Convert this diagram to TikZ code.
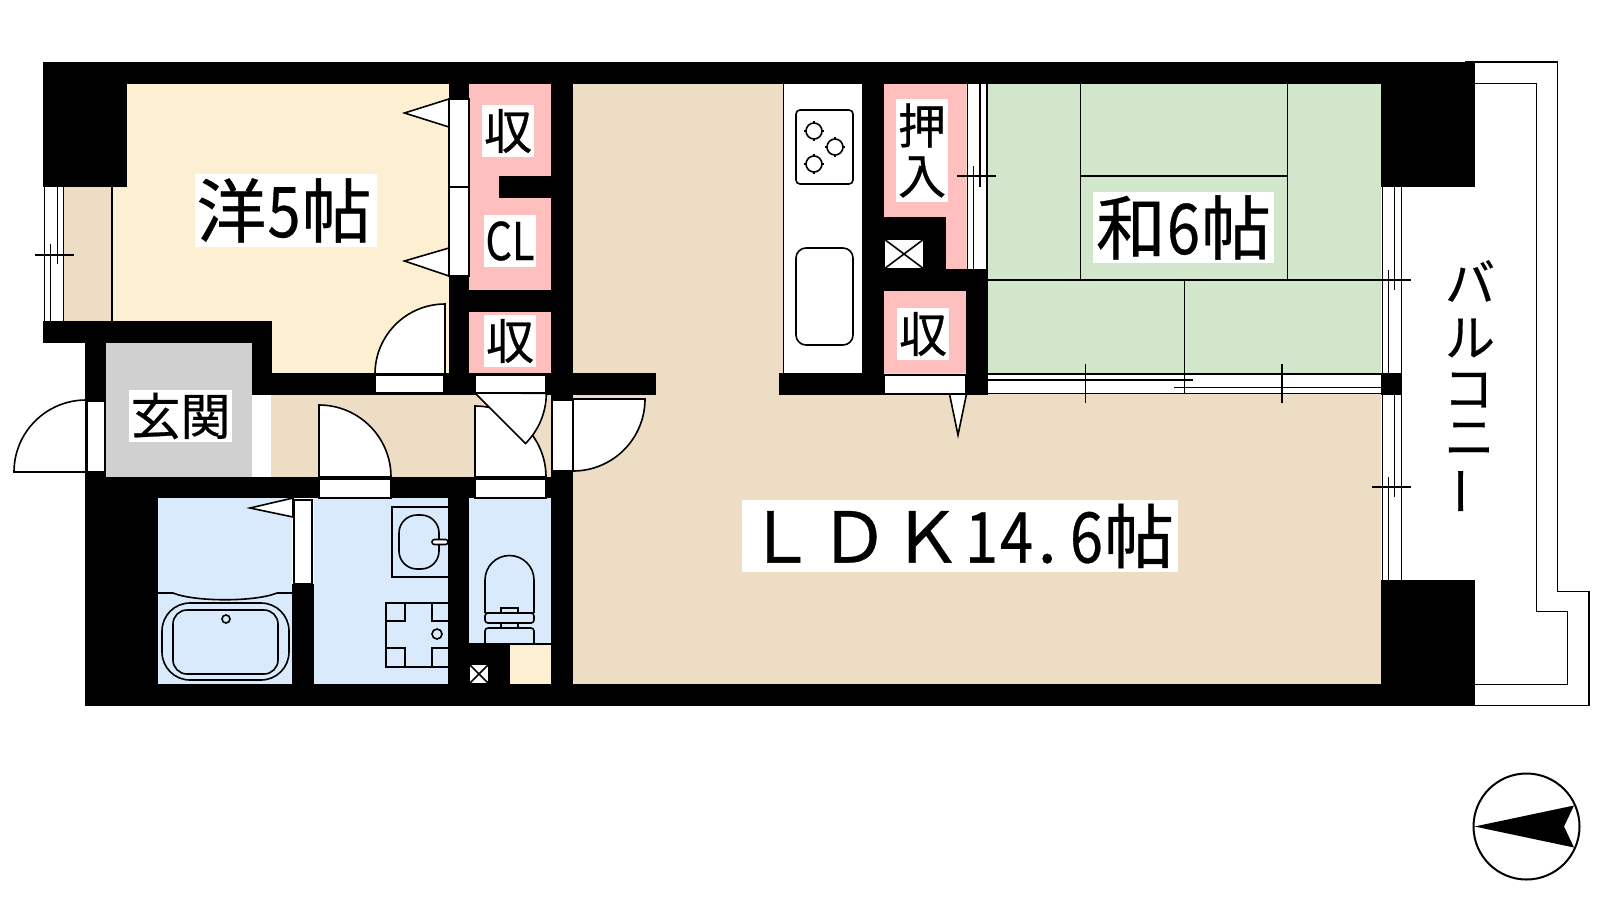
\documentclass[tikz,border=0pt]{standalone}
\usepackage{fontspec}
\setmainfont[FakeBold=.5]{Noto Sans CJK JP}
\definecolor{cream}{HTML}{FDF0D2}
\definecolor{tan}{HTML}{EDDDC5}
\definecolor{tatami}{HTML}{D2E6CB}
\definecolor{closet}{HTML}{FFBFBF}
\definecolor{wet}{HTML}{D9EAFC}
\definecolor{entry}{HTML}{D0D0D0}
\newcommand{\hankaku}[1]{\makebox[.5em]{\scalebox{.85}[1]{#1}}}
\tikzset{
  wall/.style={fill=black,draw=none},
  room/.style={draw=none},
  fine/.style={draw=black,line width=.8pt},
  leaf/.style={draw=black,fill=white,line width=.8pt},
  lbl/.style={fill=white,inner sep=0pt,text=black,align=center},
}
\begin{document}
\begin{tikzpicture}[x=.5pt,y=-.5pt]
                    \useasboundingbox[fill=white] (0,0) rectangle (1600,900);
                    \fill[room,tan] (573,84) rectangle (1381,684);
                    \fill[room,tan] (271,395) rectangle (551,477);
                    \fill[room,tan] (64,187) rectangle (112,321);
                    \fill[room,cream] (127,84) rectangle (449,373);
                    \fill[room,cream] (112,187) rectangle (272,321);
                    \fill[room,cream] (510,645) rectangle (551,684);
                    \fill[room,tatami] (988,84) rectangle (1381,373);
                    \fill[room,closet] (469,84) rectangle (551,290);
                    \fill[room,closet] (469,312) rectangle (551,373);
                    \fill[room,closet] (884,84) rectangle (966,269);
                    \fill[room,closet] (884,291) rectangle (966,373);
                    \fill[room,entry] (106,343) rectangle (252,477);
                    \fill[room,wet] (158,498) rectangle (292,684);
                    \fill[room,wet] (314,498) rectangle (448,684);
                    \fill[room,wet] (469,498) rectangle (551,645);
                    \fill[white] (783,84) rectangle (862,373);
                    \draw[fine] (783.5,84) -- (783.5,373);
                    \draw[wall] (43,62) rectangle (1475,84);
                    \draw[wall] (43,84) rectangle (127,187);
                    \draw[wall] (43,321) rectangle (272,343);
                    \draw[wall] (252,343) rectangle (272,395);
                    \draw[wall] (272,373) rectangle (656,395);
                    \draw[wall] (449,84) rectangle (469,99);
                    \draw[wall] (449,276) rectangle (469,395);
                    \draw[wall] (469,290) rectangle (551,312);
                    \draw[wall] (499,176) rectangle (551,198);
                    \draw[wall] (551,84) rectangle (573,706);
                    \draw[wall] (85,343) rectangle (106,498);
                    \draw[wall] (85,477) rectangle (551,498);
                    \draw[wall] (85,498) rectangle (158,706);
                    \draw[wall] (85,684) rectangle (1475,706);
                    \draw[wall] (292,584) rectangle (314,684);
                    \draw[wall] (448,498) rectangle (469,684);
                    \draw[wall] (469,643) rectangle (510,684);
                    \draw[wall] (862,84) rectangle (884,395);
                    \draw[wall] (779,373) rectangle (884,395);
                    \draw[wall] (884,217) rectangle (946,269);
                    \draw[wall] (884,269) rectangle (988,291);
                    \draw[wall] (966,269) rectangle (988,395);
                    \draw[wall] (1381,62) rectangle (1475,187);
                    \draw[wall] (1381,373) rectangle (1402,395);
                    \draw[wall] (1381,580) rectangle (1475,706);
                    \draw[leaf] (449,99) rectangle (469,187);
                    \draw[leaf] (449,187) rectangle (469,276);
                    \draw[leaf] (449,127) -- (404.5,113) -- (449,99) -- cycle;
                    \draw[leaf] (449,276) -- (404.5,261) -- (449,248) -- cycle;
                    \draw[leaf] (375,375) rectangle (444,393);
                    \draw[leaf] (475,375) rectangle (546,393);
                    \draw[leaf] (445,374) -- (445,304) arc[start angle=270,end angle=180,radius=70] -- cycle;
                    \draw[leaf] (87,401) rectangle (105,472);
                    \draw[leaf] (86,472) -- (86,400) arc[start angle=270,end angle=180,radius=72] -- cycle;
                    \fill[white] (252,396) rectangle (271,477);
                    \draw[leaf] (319,479) rectangle (391,498);
                    \draw[leaf] (319,477) -- (319,405) arc[start angle=270,end angle=360,radius=72] -- cycle;
                    \draw[leaf] (475,479) rectangle (546,498);
                    \draw[leaf] (475,477) -- (475,406) arc[start angle=270,end angle=360,radius=71] -- cycle;
                    \draw[leaf] (475,393) -- (525.5,443.5) arc[start angle=45,end angle=0,radius=71] -- cycle;
                    \draw[leaf] (552,400) rectangle (573,471);
                    \draw[leaf] (573,399) -- (645,399) arc[start angle=0,end angle=90,radius=72] -- cycle;
                    \draw[leaf] (294,500) rectangle (312,584);
                    \draw[leaf] (293,517) -- (250,508) -- (293,498) -- cycle;
                    \draw[leaf] (884,375) rectangle (966,394);
                    \draw[leaf] (966.5,394) -- (958,435) -- (949.5,394) -- cycle;
                    \fill[white] (44,187) rectangle (64,321);
                    \draw[fine] (44.5,187) -- (44.5,321);
                    \draw[fine] (57.5,187) -- (57.5,264);
                    \draw[fine] (50.5,244) -- (50.5,321);
                    \draw[fine] (63.5,187) -- (63.5,321);
                    \draw[fine] (112,187) -- (112,321);
                    \draw[fine] (35,255) -- (73.5,255);
                    \fill[white] (967,84) rectangle (988,269);
                    \draw[fine] (967.5,84) -- (967.5,269);
                    \draw[fine] (980,84) -- (980,187);
                    \draw[fine] (973.5,166) -- (973.5,269);
                    \draw[fine] (987,84) -- (987,269);
                    \draw[fine] (957,176) -- (996,176);
                    \fill[white] (988,373) rectangle (1381,394);
                    \draw[fine] (988,374) -- (1381,374);
                    \draw[fine] (988,393.5) -- (1381,393.5);
                    \draw[fine] (988,380) -- (1193,380);
                    \draw[fine] (1174,387.5) -- (1381,387.5);
                    \draw[fine] (1085.5,364) -- (1085.5,403);
                    \draw[fine] (1184.5,366) -- (1184.5,393);
                    \draw[fine] (1282,364) -- (1282,403);
                    \draw[fine] (1080.5,84) -- (1080.5,280);
                    \draw[fine] (1287.5,84) -- (1287.5,280);
                    \draw[fine] (1080.5,176) -- (1287.5,176);
                    \draw[fine] (988,280) -- (1381,280);
                    \draw[fine] (1184.5,280) -- (1184.5,373);
                    \fill[white] (1382,187) rectangle (1402,373);
                    \fill[white] (1382,395) rectangle (1402,580);
                    \draw[fine] (1382.5,187) -- (1382.5,373);
                    \draw[fine] (1394.5,187) -- (1394.5,290);
                    \draw[fine] (1388.5,270) -- (1388.5,373);
                    \draw[fine] (1401.5,187) -- (1401.5,373);
                    \draw[fine] (1382.5,395) -- (1382.5,580);
                    \draw[fine] (1394.5,395) -- (1394.5,497);
                    \draw[fine] (1388.5,477) -- (1388.5,580);
                    \draw[fine] (1401.5,395) -- (1401.5,580);
                    \draw[fine] (1372,280) -- (1411,280);
                    \draw[fine] (1372,487) -- (1411,487);
                    \draw[fine] (1465,62) -- (1557.5,62) -- (1557.5,591.5) -- (1589,591.5) -- (1589,705.5) -- (1465,705.5);
                    \draw[fine] (1475,83.5) -- (1536.5,83.5) -- (1536.5,611.5) -- (1567.5,611.5) -- (1567.5,684.5) -- (1475,684.5);
                    \draw[fine,rounded corners=2pt] (796,110) rectangle (853,184);
                    \draw[fine] (804,131) -- (824,131) (814,121) -- (814,141);
                    \draw[fine] (825,147) -- (845,147) (835,137) -- (835,157);
                    \draw[fine] (804,164) -- (824,164) (814,154) -- (814,174);
                    \draw[leaf] (814,131) circle (8);
                    \draw[leaf] (835,147) circle (8);
                    \draw[leaf] (814,164) circle (8);
                    \draw[fine,rounded corners=5pt] (796,248) rectangle (853,345);
                    \draw[leaf] (884,239) rectangle (924,269);
                    \draw[fine] (884,239) -- (924,269);
                    \draw[fine] (884,269) -- (924,239);
                    \draw[leaf] (469,664) rectangle (489,684);
                    \draw[fine] (469,664) -- (489,684);
                    \draw[fine] (469,684) -- (489,664);
                    \draw[fine] (510,644) -- (551,644);
                    \draw[fine] (158,593) -- (173,593) .. controls (195,602) and (255,602) .. (277,593) -- (292,593);
                    \draw[fine,rounded corners=14pt] (162,603) rectangle (289,680);
                    \draw[fine,rounded corners=7pt] (173,610) rectangle (278,674);
                    \draw[fine] (226,619) circle (4);
                    \draw[fine] (448,507) -- (392,507) -- (392,577) -- (448,577);
                    \draw[fine,rounded corners=9pt] (399,515) rectangle (439,569);
                    \draw[leaf,rounded corners=1.2pt] (432,539.5) -- (448,539.5) -- (448,544.5) -- (432,544.5) -- cycle;
                    \draw[fine] (448,603) -- (386,603) -- (386,667) -- (448,667);
                    \draw[fine] (405,603) -- (405,621) -- (386,621);
                    \draw[fine] (432,603) -- (432,621) -- (448,621);
                    \draw[fine] (405,667) -- (405,648) -- (386,648);
                    \draw[fine] (432,667) -- (432,648) -- (448,648);
                    \draw[fine] (437,634) circle (5);
                    \draw[fine] (485,613) -- (485,580) arc[start angle=180,end angle=360,radius=24.5] -- (534,613);
                    \draw[fine] (485,613) -- (501,613) -- (501,608) -- (518,608) -- (518,613) -- (534,613);
                    \draw[fine,rounded corners=1.5pt] (485,613) rectangle (534,623);
                    \draw[fine] (501,623) -- (501,628);
                    \draw[fine] (518,623) -- (518,628);
                    \draw[fine,rounded corners=1.5pt] (485,643) -- (485,628) -- (534,628) -- (534,643);
                    \node[lbl,font=\fontsize{35}{35}\selectfont,minimum width=91pt,minimum height=36.5pt] (room5) at (286,210.5) {洋\hankaku{5}帖\hspace{2pt}};
                    \node[lbl,font=\fontsize{35}{35}\selectfont,minimum width=90.5pt,minimum height=35.5pt] (room6) at (1183.5,227.5) {和\hankaku{6}帖};
                    \node[lbl,font=\fontsize{35}{35}\selectfont,minimum width=218pt,minimum height=36pt] (ldk) at (960,536) {Ｌ\hspace{1.5pt}Ｄ\hspace{1.5pt}Ｋ\hspace{1pt}\hankaku{1}\hankaku{4}\makebox[.5em][l]{\hspace{.05em}.}\hankaku{6}帖};
                    \node[lbl,font=\fontsize{25}{25}\selectfont,minimum width=51.5pt,minimum height=26pt] (genkan) at (180.5,416) {玄関};
                    \node[lbl,font=\fontsize{24}{24}\selectfont,minimum width=26pt,minimum height=26pt] (shu1) at (508,131) {収};
                    \node[lbl,font=\fontsize{26}{26}\selectfont,minimum width=26pt,minimum height=26pt] (cl) at (510,241) {\scalebox{.8}[1]{CL}};
                    \node[lbl,font=\fontsize{24}{24}\selectfont,minimum width=26pt,minimum height=26pt] (shu2) at (510,341) {収};
                    \node[lbl,font=\fontsize{24}{25}\selectfont,minimum width=26pt,minimum height=51.5pt] (oshiire) at (922,150.5) {押\\入};
                    \node[lbl,font=\fontsize{24}{24}\selectfont,minimum width=26pt,minimum height=26pt] (shu3) at (923,334) {収};
                    \node[font=\fontsize{25}{25}\selectfont] (ba) at (1470,281) {バ};
                    \node[font=\fontsize{25}{25}\selectfont] (ru) at (1470,338) {ル};
                    \node[font=\fontsize{25}{25}\selectfont] (ko) at (1468.5,390) {コ};
                    \node[font=\fontsize{25}{25}\selectfont] (ni) at (1469.5,439) {ニ};
                    \node[font=\fontsize{25}{25}\selectfont,rotate=90] (bar) at (1469,491) {ー};
                    \draw[black,line width=1pt] (1526.5,826.5) circle (53);
                    \fill[black] (1474.5,826.5) -- (1574,805.5) -- (1564,826.5) -- (1574,847.5) -- cycle;
                \end{tikzpicture}
\end{document}
